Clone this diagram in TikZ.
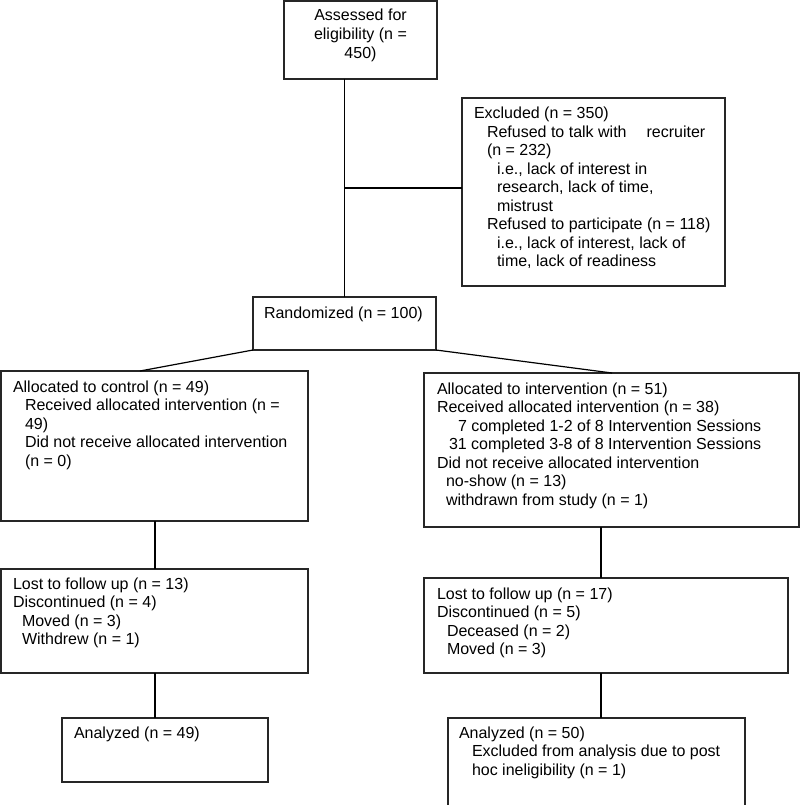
\documentclass[tikz,border=0pt]{standalone}
\usepackage{fontspec}
\setmainfont{Liberation Sans}
\newcommand\tbox[2]{\parbox[t]{#1}{\raggedright\fontsize{16}{18.5}\selectfont #2}}
\newcommand\cbox[2]{\parbox[t]{#1}{\centering\fontsize{16}{18.8}\selectfont #2}}
\begin{document}
\begin{tikzpicture}[x=1pt,y=-1pt,
  box/.style={draw=black!85, line width=1.2pt, inner sep=0pt, outer sep=0pt, anchor=north west, fill=none},
  txt/.style={anchor=base west, inner sep=0pt, outer sep=0pt},
  conn/.style={draw=black, line width=1.2pt}]
\useasboundingbox (0,0) rectangle (800,805);
\clip (0,0) rectangle (800,805);
% boxes
\node[box, minimum width=153pt, minimum height=78pt] (assess) at (284,1) {};
\node[box, minimum width=263pt, minimum height=188pt] (excl) at (462,98) {};
\node[box, minimum width=183pt, minimum height=53pt] (rand) at (253,297) {};
\node[box, minimum width=307pt, minimum height=150pt] (allocL) at (1,371) {};
\node[box, minimum width=375pt, minimum height=154pt] (allocR) at (424,373) {};
\node[box, minimum width=307pt, minimum height=104pt] (lostL) at (1,569) {};
\node[box, minimum width=364pt, minimum height=95pt] (lostR) at (424,578) {};
\node[box, minimum width=206pt, minimum height=64pt] (anaL) at (62,718) {};
\node[box, minimum width=297pt, minimum height=110pt] (anaR) at (448,718) {};
% texts
\node[txt, anchor=base] (tassess) at (360.5,21) {\cbox{150pt}{Assessed for\\ eligibility (n =\\ 450)}};
\node[txt] (texcl) at (474,119) {\tbox{260pt}{Excluded (n = 350)\\
\hspace*{13pt}Refused to talk with\hspace{20pt}recruiter\\
\hspace*{13pt}(n = 232)\\
\hspace*{23pt}i.e., lack of interest in\\
\hspace*{23pt}research, lack of time,\\
\hspace*{23pt}mistrust\\
\hspace*{13pt}Refused to participate (n = 118)\\
\hspace*{23pt}i.e., lack of interest, lack of\\
\hspace*{23pt}time, lack of readiness}};
\node[txt] (trand) at (264,318) {\tbox{180pt}{Randomized (n = 100)}};
\node[txt] (tallocL) at (13,392) {\tbox{300pt}{Allocated to control (n = 49)\\
\hspace*{12pt}Received allocated intervention (n =\\
\hspace*{12pt}49)\\
\hspace*{12pt}Did not receive allocated intervention\\
\hspace*{12pt}(n = 0)}};
\node[txt] (tallocR) at (437,394) {\tbox{370pt}{Allocated to intervention (n = 51)\\
Received allocated intervention (n = 38)\\
\hspace*{21pt}7 completed 1-2 of 8 Intervention Sessions\\
\hspace*{12pt}31 completed 3-8 of 8 Intervention Sessions\\
Did not receive allocated intervention\\
\hspace*{9pt}no-show (n = 13)\\
\hspace*{9pt}withdrawn from study (n = 1)}};
\node[txt] (tlostL) at (13,589) {\tbox{300pt}{Lost to follow up (n = 13)\\
Discontinued (n = 4)\\
\hspace*{9pt}Moved (n = 3)\\
\hspace*{9pt}Withdrew (n = 1)}};
\node[txt] (tlostR) at (437,599) {\tbox{350pt}{Lost to follow up (n = 17)\\
Discontinued (n = 5)\\
\hspace*{10pt}Deceased (n = 2)\\
\hspace*{10pt}Moved (n = 3)}};
\node[txt] (tanaL) at (74,738) {\tbox{190pt}{Analyzed (n = 49)}};
\node[txt] (tanaR) at (459,738) {\tbox{285pt}{Analyzed (n = 50)\\
\hspace*{13pt}Excluded from analysis due to post\\
\hspace*{13pt}hoc ineligibility (n = 1)}};
% connectors
\coordinate (junc) at (345,188);
\coordinate (lline) at (155,0);
\coordinate (rline) at (601,0);
\coordinate (dL) at (140,371);
\coordinate (dR) at (612,373);
\draw[conn] (rand.north) -- (rand.north |- assess.south);
\draw[conn] (junc) -- (junc -| excl.west);
\draw[conn] (rand.south west) -- (dL);
\draw[conn] (rand.south east) -- (dR);
\draw[conn] (allocL.south -| lline) -- (lostL.north -| lline);
\draw[conn] (lostL.south -| lline) -- (anaL.north -| lline);
\draw[conn] (allocR.south -| rline) -- (lostR.north -| rline);
\draw[conn] (lostR.south -| rline) -- (anaR.north -| rline);
\end{tikzpicture}
\end{document}
